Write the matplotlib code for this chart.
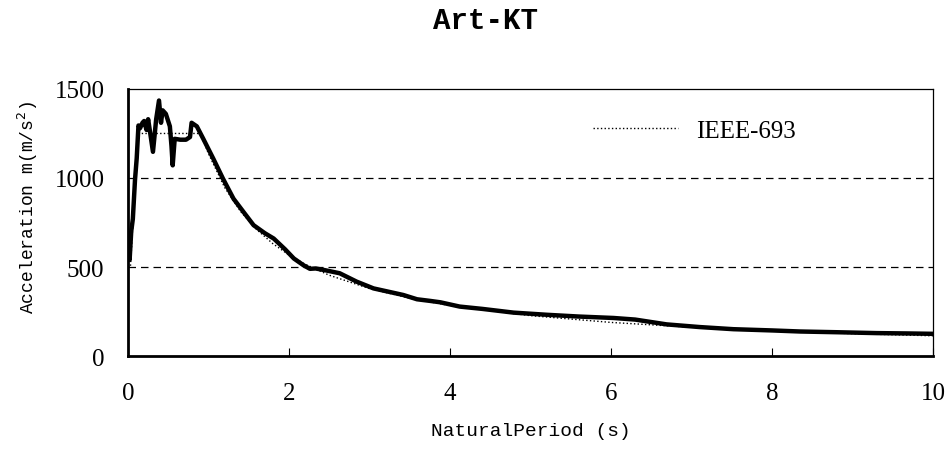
import matplotlib
matplotlib.use("Agg")
import matplotlib.pyplot as plt
from matplotlib.lines import Line2D

# Art-KT response spectrum
period = [0, 0.02, 0.04, 0.06, 0.087, 0.108, 0.13, 0.15, 0.18, 0.20, 0.23, 0.25, 0.27,
          0.31, 0.35, 0.385, 0.41, 0.43, 0.47, 0.52, 0.54, 0.555, 0.58, 0.65, 0.72,
          0.77, 0.79, 0.855, 0.935, 1.06, 1.18, 1.31, 1.45, 1.56, 1.7, 1.81, 1.95,
          2.06, 2.18, 2.26, 2.33, 2.45, 2.63, 2.84, 3.05, 3.2, 3.42, 3.59, 3.75,
          3.88, 4.12, 4.4, 4.79, 5.2, 5.6, 6.03, 6.3, 6.69, 7.1, 7.52, 8.0, 8.35,
          8.8, 9.3, 9.7, 10.0]
accel = [620, 540, 700, 770, 990, 1110, 1295, 1280, 1310, 1320, 1270, 1330, 1270,
         1147, 1330, 1435, 1310, 1380, 1360, 1290, 1180, 1071, 1220, 1215, 1215,
         1230, 1310, 1290, 1220, 1108, 996, 884, 800, 735, 690, 660, 600,
         548, 510, 490, 492, 482, 465, 418, 380, 365, 343, 319, 310,
         302, 278, 265, 244, 232, 222, 214, 205, 178, 163, 151, 144, 138,
         134, 129, 127, 125]

# IEEE-693 required spectrum
ieee_period = [0, 0.03, 0.125, 0.9, 1.0, 1.2, 1.4, 1.6, 1.8, 2.0, 2.2, 2.5, 3.0,
               3.5, 4.0, 5.0, 6.0, 7.0, 8.0, 9.0, 10.0]
ieee_accel = [500, 500, 1250, 1250, 1136, 947, 811, 710, 631, 568, 516, 454, 379,
              325, 284, 227, 189, 162, 142, 126, 114]

xticks = [0, 2, 4, 6, 8, 10]
yticks = [0, 500, 1000, 1500]

fig = plt.figure(figsize=(9.51, 4.52), dpi=100)
ax = fig.add_axes([0.1346, 0.21, 0.8465, 0.591])

ax.plot(ieee_period, ieee_accel, color="black", lw=1.0, ls=":", zorder=3)
ax.plot(period, accel, color="black", lw=3.2, zorder=2, solid_joinstyle="round")

for v in [500, 1000]:
    ax.axhline(v, color="black", lw=0.9, ls=(0, (6, 4)), zorder=1)

ax.set_xlim(0, 10)
ax.set_ylim(0, 1500)
ax.set_xticks(xticks)
ax.set_yticks(yticks)
ax.tick_params(axis="x", direction="in", length=6, width=0.8, pad=19)
ax.tick_params(axis="y", length=0, pad=17)
for lab in ax.get_xticklabels() + ax.get_yticklabels():
    lab.set_family("Liberation Serif")
    lab.set_fontsize(18)

ax.spines["left"].set_linewidth(2.0)
ax.spines["bottom"].set_linewidth(2.0)
ax.spines["top"].set_linewidth(0.9)
ax.spines["right"].set_linewidth(0.9)

ax.set_xlabel("NaturalPeriod (s)", family="Liberation Mono", fontsize=14)
ax.xaxis.set_label_coords(0.5, -0.28)
ax.xaxis.label.set_va("center")
ax.set_ylabel("Acceleration m(m/s$^{2}$)", family="Liberation Mono", fontsize=13)
ax.yaxis.set_label_coords(-0.124, 0.56)
ax.yaxis.label.set_va("center")
fig.text(0.51, 0.953, "Art-KT", family="Liberation Mono", fontsize=21,
         fontweight="semibold", ha="center", va="center")

handle = Line2D([], [], color="black", lw=1.0, ls=":")
ax.legend([handle], ["IEEE-693"], loc="center left", bbox_to_anchor=(0.578, 0.845),
          frameon=False, handlelength=3.4, handletextpad=0.7, borderpad=0,
          borderaxespad=0, prop={"family": "Liberation Serif", "size": 18})

fig.savefig("out.png", dpi=100)
